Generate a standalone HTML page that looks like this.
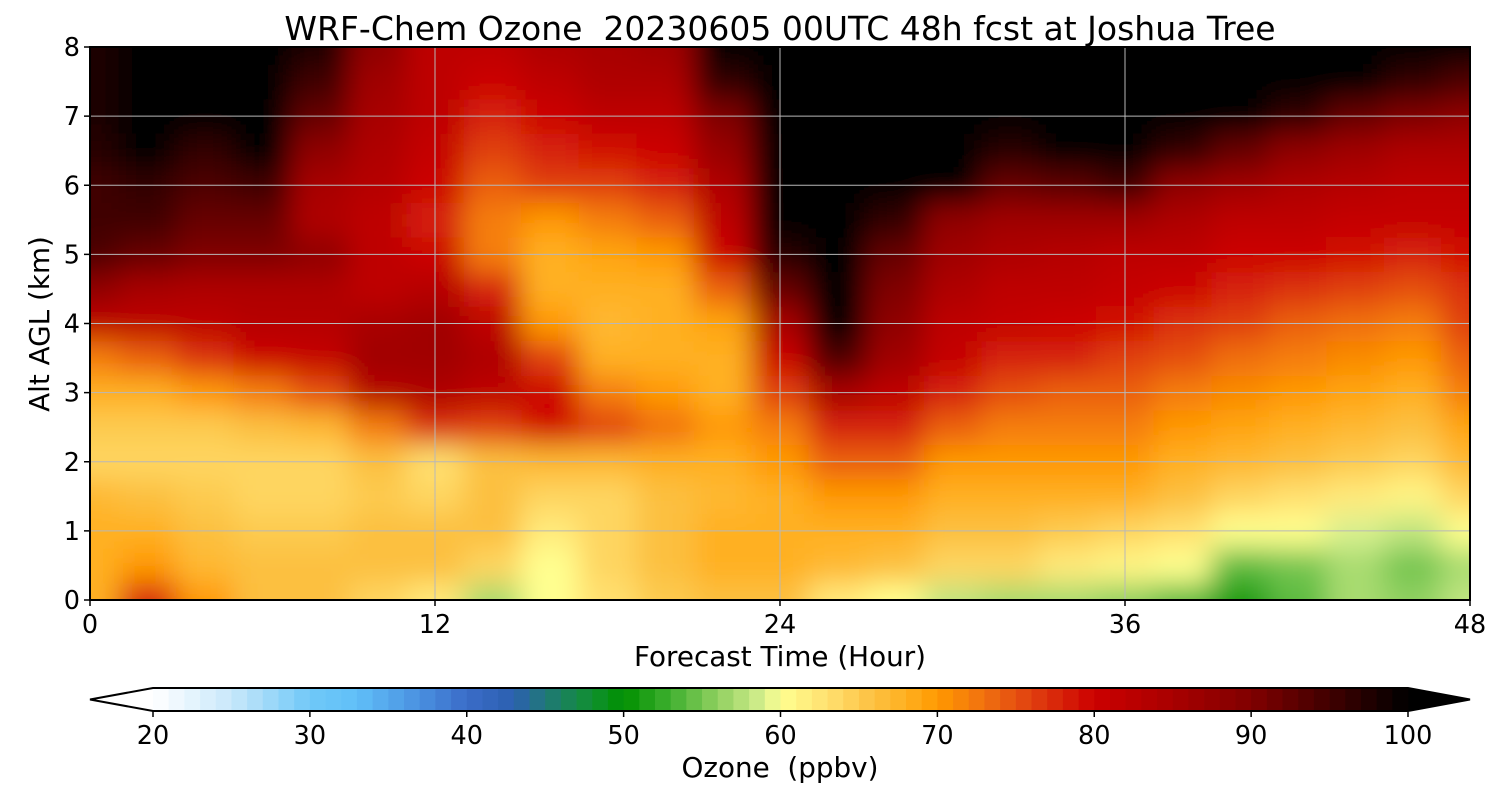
<!DOCTYPE html>
<html><head><meta charset="utf-8">
<style>
html,body{margin:0;padding:0;background:#fff;}
svg{display:block;font-family:"DejaVu Sans","Liberation Sans",sans-serif;}
</style></head>
<body>
<svg id="chart" width="1500" height="800" viewBox="0 0 1500 800" xmlns="http://www.w3.org/2000/svg">
<defs>
<clipPath id="plotclip"><rect x="90" y="47" width="1380" height="553"/></clipPath>
<filter id="smooth" x="-5%" y="-5%" width="110%" height="110%"><feGaussianBlur stdDeviation="14"/></filter>
</defs>
<text x="780" y="40" font-size="33" text-anchor="middle" style="white-space:pre">WRF-Chem Ozone  20230605 00UTC 48h fcst at Joshua Tree</text>
<g id="heat" clip-path="url(#plotclip)"><g id="heatcells" filter="url(#smooth)"></g></g>
<g id="grid"></g>
<rect x="90" y="47" width="1380" height="553" fill="none" stroke="#000" stroke-width="2"/>
<g id="xticks"></g>
<g id="yticks"></g>
<text x="780" y="666" font-size="27.8" text-anchor="middle">Forecast Time (Hour)</text>
<text x="49" y="324" font-size="27.8" text-anchor="middle" transform="rotate(-90 49 324)">Alt AGL (km)</text>
<g id="cbar"></g>
<text x="780" y="777" font-size="27.8" text-anchor="middle" style="white-space:pre">Ozone  (ppbv)</text>
</svg>
<script>
const NS="http://www.w3.org/2000/svg";
const times=[0,2,4,6,8,10,12,14,16,18,20,22,24,26,28,30,32,34,36,38,40,42,44,46,48];
const alts=[0,0.5,1,1.5,2,2.5,3,3.5,4,4.5,5,5.5,6,6.5,7,7.5,8];
const ozone=[
[68,68,68,67,64,65,68,72,82,88,94,95,95,97,98,98,98],
[78,70,68,66,64,65,68,74,82,85,92,95,96,100,100,100,100],
[70,67,66,65,64,65,70,77,82,84,90,92,94,96,100,100,100],
[66,66,65,64,64,66,72,80,83,84,90,92,95,100,100,100,100],
[66,66,65,64,64,67,75,81,83,84,88,84,85,88,92,95,98],
[64,66,66,65,66,72,83,86,85,82,82,82,83,84,85,86,88],
[62,66,66,64,63,77,84,86,86,83,80,78,80,81,82,82,82],
[57,64,66,66,66,76,82,84,82,78,72,72,74,76,78,80,82],
[60,60,62,64,67,79,80,76,70,68,68,70,76,78,80,82,84],
[63,64,64,64,67,76,72,68,67,68,69,72,76,79,82,84,85],
[65,66,66,66,68,73,70,68,68,68,70,74,78,80,82,84,86],
[66,68,68,67,68,70,68,68,69,74,80,82,84,87,90,96,100],
[66,68,68,68,70,72,76,80,85,92,97,100,100,100,100,100,100],
[62,67,68,70,74,78,85,94,100,100,100,100,100,100,100,100,100],
[60,66,68,70,74,78,82,86,88,90,92,96,100,100,100,100,100],
[58,64,66,68,70,74,78,81,82,84,86,88,100,100,100,100,100],
[57,64,66,68,70,72,75,78,81,82,84,86,92,97,100,100,100],
[57,62,65,68,70,72,74,78,80,82,83,86,93,100,100,100,100],
[56,61,64,68,70,72,74,76,79,81,82,86,95,100,100,100,100],
[54,60,63,66,68,70,72,75,77,80,82,84,88,96,100,100,100],
[51,54,60,64,67,69,71,73,76,78,80,82,86,92,100,100,100],
[54,55,60,63,66,68,70,72,74,77,80,82,84,88,96,100,100],
[57,57,59,62,65,67,69,71,73,76,79,81,83,86,92,100,100],
[56,55,58,61,64,66,68,70,72,75,78,81,82,84,90,96,100],
[58,57,60,64,67,69,72,74,76,77,79,81,82,84,88,94,100]
];
const xTickVals=[0,12,24,36,48];
const yTickVals=[0,1,2,3,4,5,6,7,8];
const cbarTickVals=[20,30,40,50,60,70,80,90,100];

const X0=90,X1=1470,Y0=600,Y1=47;
const xs=t=>X0+(t-0)/(48-0)*(X1-X0);
const ys=a=>Y0-(a-0)/(8-0)*(Y0-Y1);
const CB0=153,CB1=1408;
const cs=v=>CB0+(v-20)/(100-20)*(CB1-CB0);

const stops=[[20,"#ffffff"],[25,"#c8e8fa"],[30,"#70c8f8"],[33,"#60bff8"],[37,"#4a90e0"],[40,"#3a6cc8"],[43,"#2c60b0"],[45,"#207878"],[48,"#109030"],[50,"#009000"],[53,"#40b030"],[56,"#90d060"],[59,"#d8f090"],[60,"#ffff90"],[63,"#ffe070"],[66,"#fcc040"],[68,"#ffb020"],[70,"#ff9900"],[73,"#f07010"],[76,"#e04010"],[80,"#cc0000"],[85,"#a80000"],[90,"#800000"],[95,"#400000"],[100,"#000000"]];
function hex(h){return [1,3,5].map(i=>parseInt(h.substr(i,2),16));}
function cmap(v){
  if(v<=stops[0][0])return stops[0][1];
  if(v>=100)return "#000000";
  for(let i=1;i<stops.length;i++){
    if(v<=stops[i][0]){
      const [a,ca]=stops[i-1],[b,cb]=stops[i];
      const f=(v-a)/(b-a),A=hex(ca),B=hex(cb);
      return "rgb("+A.map((x,k)=>Math.round(x+(B[k]-x)*f)).join(",")+")";
    }
  }
}
function mk(tag,attrs,parent){const e=document.createElementNS(NS,tag);for(const k in attrs)e.setAttribute(k,attrs[k]);parent.appendChild(e);return e;}

const cells=document.getElementById("heatcells");
const dx=xs(2)-xs(0), dy=ys(0)-ys(0.5);
times.forEach((t,i)=>{
  alts.forEach((a,j)=>{
    let x=xs(t)-dx/2, y=ys(a)-dy/2, w=dx+0.5, h=dy+0.5;
    if(i===0){x-=40;w+=40;}
    if(i===times.length-1){w+=40;}
    if(j===0){h+=40;}
    if(j===alts.length-1){y-=40;h+=40;}
    const r=mk("rect",{x:x,y:y,width:w,height:h,fill:cmap(ozone[i][j])},cells);
    
    
  });
});

const grid=document.getElementById("grid");
xTickVals.slice(1,-1).forEach(t=>{mk("line",{x1:xs(t),x2:xs(t),y1:Y1,y2:Y0,stroke:"#b8b8b8","stroke-width":1},grid);});
yTickVals.slice(1,-1).forEach(a=>{mk("line",{x1:X0,x2:X1,y1:ys(a),y2:ys(a),stroke:"#b8b8b8","stroke-width":1},grid);});

const xt=document.getElementById("xticks");
xTickVals.forEach(t=>{
  mk("line",{x1:xs(t),x2:xs(t),y1:Y0,y2:Y0+6,stroke:"#000","stroke-width":1.5},xt);
  const tx=mk("text",{x:xs(t),y:633,"font-size":25.5,"text-anchor":"middle"},xt);tx.textContent=t;
  
  
});
const yt=document.getElementById("yticks");
yTickVals.forEach(a=>{
  mk("line",{x1:X0-6,x2:X0,y1:ys(a),y2:ys(a),stroke:"#000","stroke-width":1.5},yt);
  const tx=mk("text",{x:80,y:ys(a)+9,"font-size":25.5,"text-anchor":"end"},yt);tx.textContent=a;
  
  
});

const cb=document.getElementById("cbar");
const CY0=688,CY1=711,CM=(CY0+CY1)/2;
mk("polygon",{points:`${CB0},${CY0} 90,${CM} ${CB0},${CY1}`,fill:cmap(20),stroke:"none"},cb);
mk("polygon",{points:`${CB1},${CY0} 1470,${CM} ${CB1},${CY1}`,fill:"#000",stroke:"none"},cb);
for(let v=20;v<100;v++){
  const r=mk("rect",{x:cs(v),y:CY0,width:cs(v+1)-cs(v)+0.4,height:CY1-CY0,fill:cmap(v+0.5)},cb);
  
  
}
mk("polygon",{points:`${CB0},${CY0} ${CB1},${CY0} 1470,${CM} ${CB1},${CY1} ${CB0},${CY1} 90,${CM}`,fill:"none",stroke:"#000","stroke-width":2},cb);
cbarTickVals.forEach(v=>{
  mk("line",{x1:cs(v),x2:cs(v),y1:CY1,y2:CY1+6,stroke:"#000","stroke-width":1.5},cb);
  const tx=mk("text",{x:cs(v),y:744,"font-size":25.5,"text-anchor":"middle"},cb);tx.textContent=v;
  
  
});
</script>
</body></html>
